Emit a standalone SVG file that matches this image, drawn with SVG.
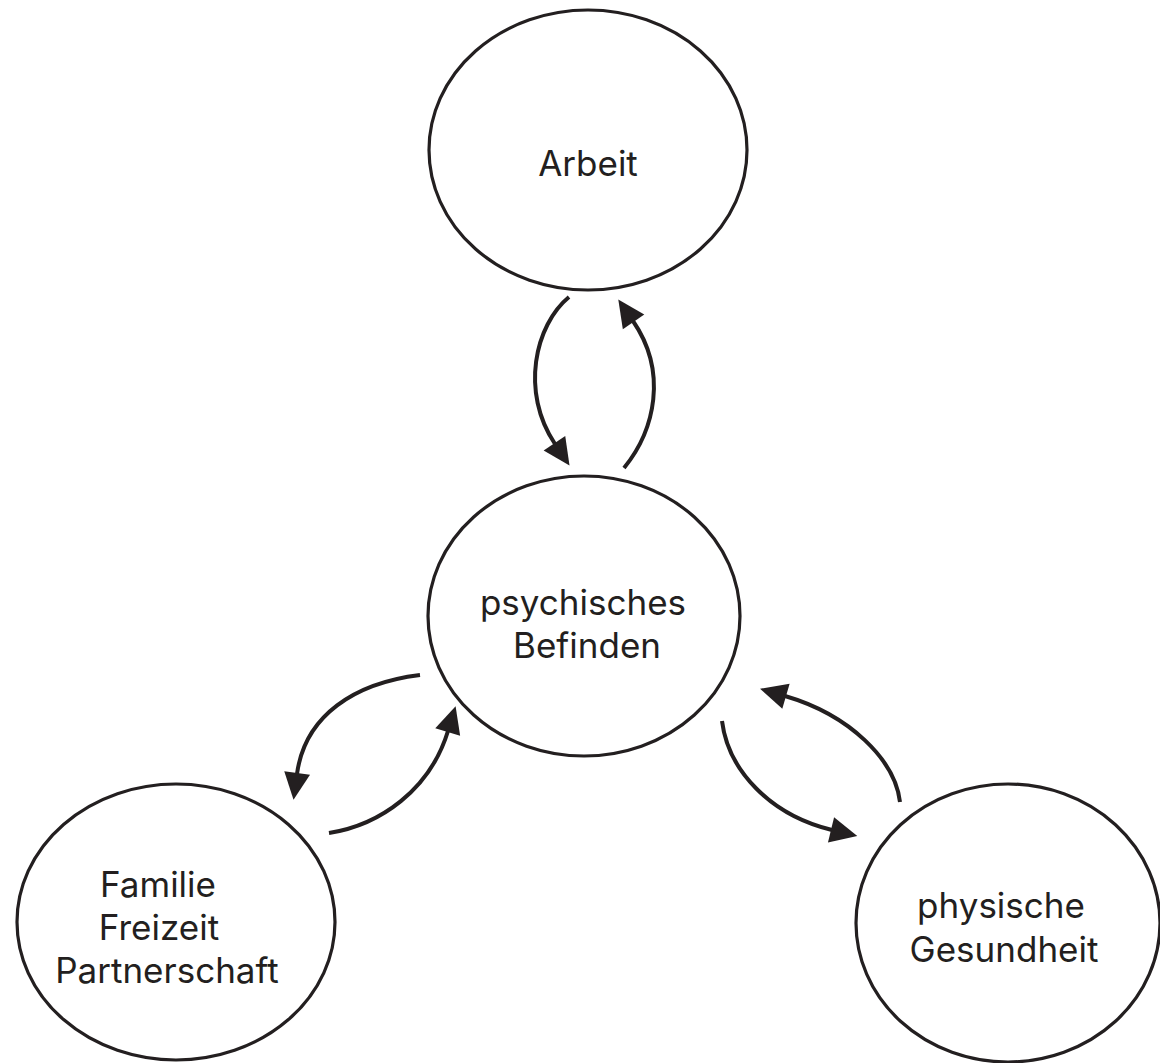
<svg xmlns="http://www.w3.org/2000/svg" width="1160" height="1063" viewBox="0 0 1160 1063">
<style>
.node{fill:#ffffff;stroke:#231f20;stroke-width:3.2}
.lbl{font-family:Inter,"Open Sans","Liberation Sans",sans-serif;font-size:35px;fill:#231f20;text-anchor:middle}
.conn{fill:none;stroke:#231f20;stroke-width:4;marker-end:url(#ah)}
</style>
<defs>
<marker id="ah" markerUnits="userSpaceOnUse" markerWidth="30" markerHeight="30" viewBox="-2 -15 30 30" refX="1" refY="0" orient="auto">
<path d="M0,-13 L27,0 L0,13 z" fill="#231f20"/>
</marker>
</defs>
<rect width="1160" height="1063" fill="#ffffff"/>
<g id="node-arbeit">
<ellipse class="node" cx="588" cy="150" rx="159" ry="140"/>
<text class="lbl" x="588" y="176">Arbeit</text>
</g>
<g id="node-befinden">
<ellipse class="node" cx="584" cy="616" rx="156" ry="140"/>
<text class="lbl" x="583" y="615">psychisches</text>
<text class="lbl" x="587" y="658">Befinden</text>
</g>
<g id="node-familie">
<ellipse class="node" cx="176" cy="922" rx="159" ry="138"/>
<text class="lbl" x="158" y="897">Familie</text>
<text class="lbl" x="159" y="940">Freizeit</text>
<text class="lbl" x="167" y="983">Partnerschaft</text>
</g>
<g id="node-gesundheit">
<ellipse class="node" cx="1008" cy="923" rx="152" ry="139"/>
<text class="lbl" x="1001" y="918">physische</text>
<text class="lbl" x="1004" y="962">Gesundheit</text>
</g>
<g id="connectors">
<path class="conn" d="M569,297 C535,325 520,392 555,444"/>
<path class="conn" d="M624,468 C655,430 668,372 633,321"/>
<path class="conn" d="M420,675 C355,683 305,715 297,774"/>
<path class="conn" d="M329,833 C380,825 430,790 448,731"/>
<path class="conn" d="M722,721 C728,770 770,815 832,830"/>
<path class="conn" d="M900,802 C895,760 850,715 785,696"/>
</g>
</svg>
